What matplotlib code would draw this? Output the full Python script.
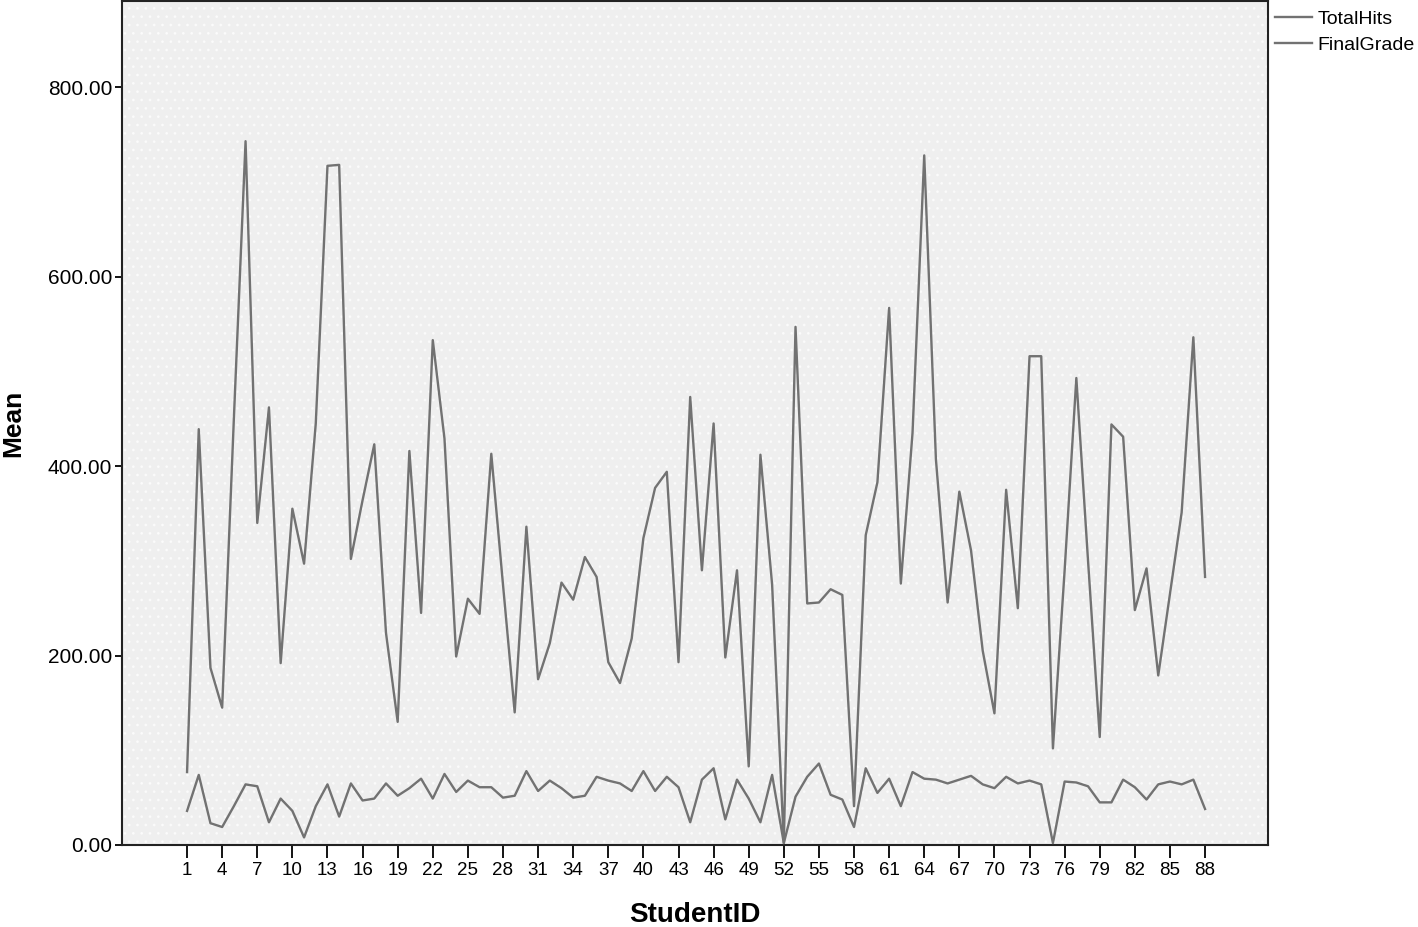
import matplotlib
matplotlib.use("Agg")

import matplotlib.pyplot as plt

# student ids 1..88 (category axis)
student_ids = list(range(1, 89))

total_hits = [77, 439, 187, 145, 450, 743, 340, 462, 192, 355,
              297, 445, 717, 718, 302, 364, 423, 224, 130, 416,
              245, 533, 429, 199, 260, 244, 413, 275, 140, 336,
              175, 213, 277, 259, 304, 283, 193, 171, 218, 324,
              377, 394, 193, 473, 290, 445, 198, 290, 83, 412,
              275, 2, 547, 255, 256, 270, 264, 41, 327, 383,
              567, 276, 435, 728, 407, 256, 373, 311, 205, 139,
              375, 250, 516, 516, 102, 290, 493, 300, 114, 444,
              431, 248, 292, 179, 265, 351, 536, 283]

final_grade = [36, 74, 23, 19, 41, 64, 62, 24, 49, 36,
               8, 41, 64, 30, 65, 47, 49, 65, 52, 60,
               70, 49, 75, 56, 68, 61, 61, 50, 52, 78,
               57, 68, 60, 50, 52, 72, 68, 65, 57, 78,
               57, 72, 61, 24, 69, 81, 27, 69, 49, 24,
               74, 2, 51, 72, 86, 53, 48, 19, 81, 55,
               70, 41, 77, 70, 69, 65, 69, 73, 64, 60,
               72, 65, 68, 64, 2, 67, 66, 62, 45, 45,
               69, 61, 48, 64, 67, 64, 69, 38]

y_ticks = [0, 200, 400, 600, 800]

plt.rcParams["font.family"] = ["Liberation Sans", "DejaVu Sans"]
plt.rcParams["hatch.color"] = "white"
plt.rcParams["hatch.linewidth"] = 0.8

fig = plt.figure(figsize=(14.18, 9.27), dpi=100)
ax = fig.add_axes([122 / 1418, 82 / 927, (1268 - 122) / 1418, (845 - 1) / 927])

ax.set_facecolor("#efefef")
# faint dotted texture like the SPSS background
ax.add_patch(plt.Rectangle((0, 0), 1, 1, transform=ax.transAxes, facecolor="none",
                           edgecolor="white", hatch="..", lw=0, zorder=0, alpha=0.6))

line_col = "#727272"
ax.plot(student_ids, total_hits, color=line_col, lw=1.7, label="TotalHits", zorder=3)
ax.plot(student_ids, final_grade, color=line_col, lw=1.7, label="FinalGrade", zorder=3)

ax.set_xlim(1 - 5.56, 88 + 5.38)
ax.set_ylim(0, 891)

ax.set_xticks(student_ids[::3])
ax.set_xticklabels([str(s) for s in student_ids[::3]], fontsize=13.5)
ax.set_yticks(y_ticks)
ax.set_yticklabels([f"{v:.2f}" for v in y_ticks], fontsize=15)
ax.tick_params(axis="x", length=9, width=1.3, direction="out", pad=3)
ax.tick_params(axis="y", length=5, width=1.3, direction="out", pad=2)

for s in ax.spines.values():
    s.set_linewidth(1.5)
    s.set_color("#222222")

ax.set_xlabel("StudentID", fontsize=20, fontweight="bold", labelpad=17)
ax.set_ylabel("Mean", fontsize=19, fontweight="bold", labelpad=16)

ax.legend(loc="upper left", bbox_to_anchor=(1273 / 1418, 919 / 927), bbox_transform=fig.transFigure,
          frameon=False, fontsize=14, handlelength=1.9, handletextpad=0.3,
          labelspacing=0.46, borderaxespad=0, borderpad=0.1)

fig.savefig("out.png", dpi=100)
plt.close(fig)
